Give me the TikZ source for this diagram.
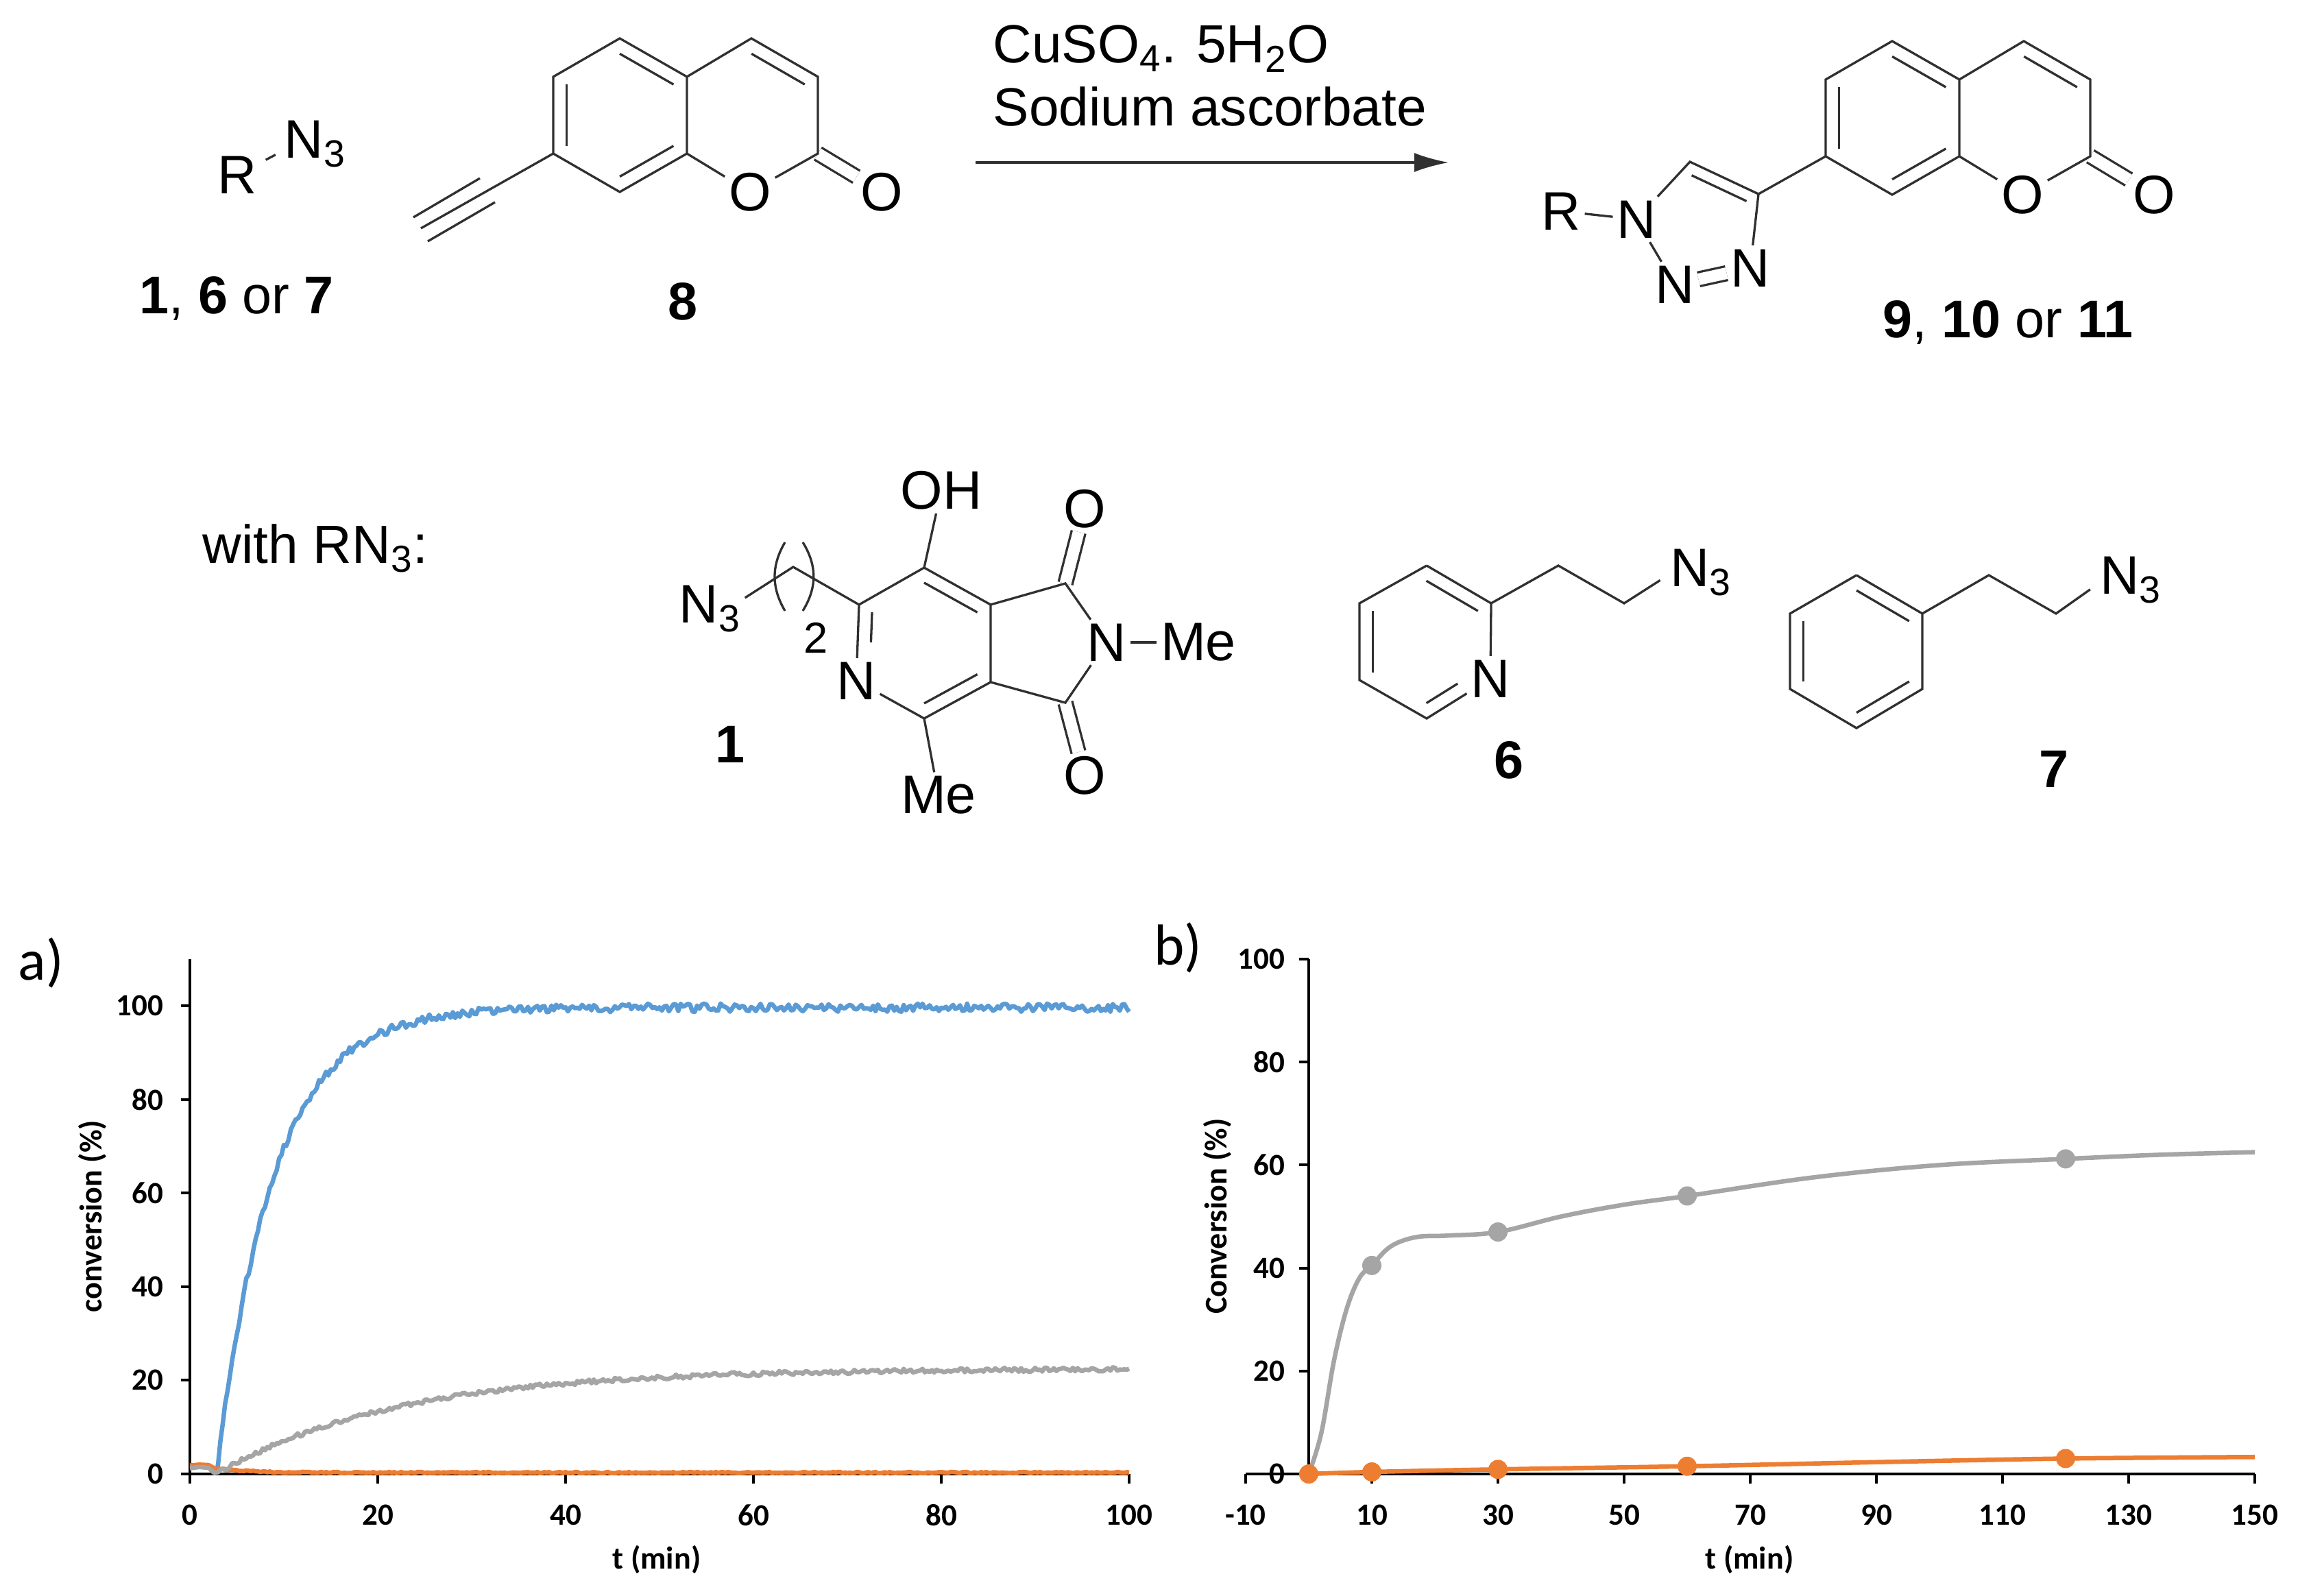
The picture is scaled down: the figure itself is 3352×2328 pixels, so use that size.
\documentclass[tikz,border=0pt]{standalone}
\usepackage{fontspec}
\setmainfont{Liberation Sans}
\newfontfamily\chartfont{Carlito}
\usetikzlibrary{arrows.meta,calc,positioning}

\definecolor{bondgray}{HTML}{303030}
\definecolor{seriesblue}{HTML}{5B9BD5}
\definecolor{seriesgray}{HTML}{A5A5A5}
\definecolor{seriesorange}{HTML}{ED7D31}

% inner line of a ring double bond: ends, ring centre
\newcommand{\inbond}[4][]{\draw[bond,#1] ($(#2)!.2!(#4)$) -- ($(#3)!.2!(#4)$);}

\tikzset{
  bond/.style={draw=bondgray,line width=0.033cm},
  dbond/.style={bond,double=white,double distance=0.17cm},
  atom/.style={font=\fontsize{22.5}{27}\selectfont,text=black,inner sep=1.5pt},
  cpdlabel/.style={font=\fontsize{22}{26}\selectfont,text=black,inner sep=0pt},
  plaintext/.style={font=\fontsize{22.3}{27}\selectfont,text=black,inner sep=0pt},
  axisline/.style={draw=black,line width=0.035cm},
  ticklab/.style={font=\chartfont\bfseries\fontsize{12.8}{15}\selectfont,text=black,inner sep=0pt},
  axislab/.style={font=\chartfont\bfseries\fontsize{13.1}{16}\selectfont,text=black,inner sep=0pt},
  panellab/.style={font=\chartfont\fontsize{24}{28}\selectfont,text=black,inner sep=0pt},
  curveblue/.style={draw=seriesblue,line width=0.065cm,line join=round},
  curvegray/.style={draw=seriesgray,line width=0.065cm,line join=round},
  curveorange/.style={draw=seriesorange,line width=0.065cm,line join=round},
  graydot/.style={circle,fill=seriesgray,inner sep=0pt,minimum size=0.28cm},
  orangedot/.style={circle,fill=seriesorange,inner sep=0pt,minimum size=0.28cm},
  pics/coumarin/.style={code={
    \coordinate (c1) at (0,0);
    \coordinate (c2) at (193,0);
    \coordinate (t) at (0,-112);
    \coordinate (ur) at (98,-56);
    \coordinate (lr) at (98,56);
    \coordinate (b) at (0,112);
    \coordinate (ll) at (-97,56);
    \coordinate (ul) at (-97,-56);
    \coordinate (t2) at (192,-112);
    \coordinate (ru) at (289,-56);
    \coordinate (rl) at (289,56);
    \node[atom] (O) at (190,112) {O};
    \node[atom] (Ox) at (382,112) {O};
    \draw[dbond] (rl) -- (Ox);
    \draw[bond] (t) -- (ur) -- (lr) -- (b) -- (ll) -- (ul) -- cycle;
    \draw[bond] (ur) -- (t2) -- (ru) -- (rl) -- (O) -- (lr);
    \inbond{t}{ur}{c1}
    \inbond{ll}{ul}{c1}
    \inbond{lr}{b}{c1}
    \inbond{t2}{ru}{c2}
  }}
}

\begin{document}
\begin{tikzpicture}[x=0.01cm,y=-0.01cm]
\useasboundingbox (0,0) rectangle (3352,2328);

% reaction, left side
\node[atom] (rA) at (346,255) {R};
\node[atom,anchor=west] (azA) at (409,210) {N\textsubscript{3}};
\draw[bond,shorten <=0.08cm,shorten >=0.08cm] (rA) -- ([yshift=-0.12cm]azA.west);
\node[cpdlabel] (lab167) at (345,435) {\textbf{1}, \textbf{6} or \textbf{7}};
\pic (cA) at (904,168) {coumarin};
\coordinate (yneA) at (614,333);
\coordinate (yneAa) at (700,260);
\coordinate (yneAb) at (603,317);
\coordinate (yneAc) at (722,295);
\coordinate (yneAd) at (624,352);
\draw[bond] (cAll) -- (yneA);
\draw[bond] (yneAa) -- (yneAb);
\draw[bond] (yneAc) -- (yneAd);
\node[cpdlabel] (lab8) at (996,440) {\textbf{8}};

% arrow and conditions
\coordinate (arrS) at (1423,237);
\coordinate (arrE) at (2113,237);
\draw[bond,-{Latex[length=0.5cm,width=0.28cm]}] (arrS) -- (arrE);
\node[plaintext,anchor=base west] (cond1) at (1448,92) {CuSO\textsubscript{4}. 5H\textsubscript{2}O};
\node[plaintext,anchor=base west] (cond2) at (1448,184) {Sodium ascorbate};

% reaction, product
\pic (cB) at (2760,172) {coumarin};
\coordinate (c4) at (2565,283);
\coordinate (c5) at (2465,236);
\coordinate (ctz) at (2478,335);
\node[atom] (n1) at (2387,320) {N};
\node[atom] (n2) at (2443,415) {N};
\node[atom] (n3) at (2553,391) {N};
\node[atom] (rB) at (2277,308) {R};
\draw[bond] (cBll) -- (c4);
\draw[bond] (c4) -- (c5) -- (n1);
\draw[bond] (c4) -- (n3);
\draw[bond] (n1) -- (n2);
\draw[dbond] (n2) -- (n3);
\draw[bond] (rB) -- (n1);
\inbond{c4}{c5}{ctz}
\node[cpdlabel] (lab911) at (2929,470) {\textbf{9}, \textbf{10} or \textbf{11}};

% with RN3
\node[plaintext,anchor=west] (with) at (295,800) {with RN\textsubscript{3}:};

% compound 1
\coordinate (p1) at (1348,828);
\coordinate (p2) at (1445,882);
\coordinate (p3) at (1445,995);
\coordinate (p4) at (1348,1048);
\coordinate (p6) at (1253,882);
\coordinate (pc) at (1348,938);
\coordinate (f1) at (1554,851);
\coordinate (f2) at (1554,1025);
\coordinate (ch2) at (1157,827);
\node[atom] (p5) at (1249,993) {N};
\node[atom] (nf) at (1614,937) {N};
\node[atom] (meN) at (1748,937) {Me};
\node[atom] (oh) at (1373,715) {OH};
\node[atom] (me) at (1369,1160) {Me};
\node[atom] (of1) at (1582,742) {O};
\node[atom] (of2) at (1582,1131) {O};
\node[atom,anchor=west] (azB) at (985,888) {N\textsubscript{3}};
\node[atom,inner sep=0pt,font=\fontsize{18}{22}\selectfont] (two) at (1190,930) {2};
\draw[dbond] (f1) -- (of1);
\draw[dbond] (f2) -- (of2);
\draw[bond] (p6) -- (p1) -- (p2) -- (p3) -- (p4) -- (p5) -- (p6);
\draw[bond] (p2) -- (f1) -- (nf) -- (f2) -- (p3);
\draw[bond] (nf) -- (meN);
\draw[bond] (p1) -- (oh);
\draw[bond] (p4) -- (me);
\draw[bond] (p6) -- (ch2) -- ([yshift=0.16cm]azB.east);
\draw[bond] (1145,791) .. controls (1125,825) and (1125,857) .. (1145,891);
\draw[bond] (1171,791) .. controls (1192,825) and (1192,857) .. (1171,891);
\inbond{p1}{p2}{pc}
\inbond{p3}{p4}{pc}
\inbond[shorten >=0.45cm]{p6}{p5}{pc}
\node[cpdlabel] (lab1) at (1065,1086) {\textbf{1}};

% compound 6
\coordinate (q1) at (2081,825);
\coordinate (q2) at (2175,880);
\coordinate (q4) at (2081,1048);
\coordinate (q5) at (1983,992);
\coordinate (q6) at (1983,880);
\coordinate (qc) at (2079,936);
\coordinate (q7) at (2273,825);
\coordinate (q8) at (2369,880);
\node[atom] (q3) at (2174,990) {N};
\node[atom,anchor=west] (azC) at (2430,835) {N\textsubscript{3}};
\draw[bond] (q1) -- (q2) -- (q3) -- (q4) -- (q5) -- (q6) -- (q1);
\draw[bond,shorten >=0.1cm] (q2) -- (q7) -- (q8) -- ([yshift=-0.06cm]azC.west);
\inbond{q1}{q2}{qc}
\inbond{q5}{q6}{qc}
\inbond[shorten >=0.34cm]{q4}{q3}{qc}
\node[cpdlabel] (lab6) at (2201,1109) {\textbf{6}};

% compound 7
\coordinate (s1) at (2708,839);
\coordinate (s2) at (2804,895);
\coordinate (s3) at (2804,1005);
\coordinate (s4) at (2708,1062);
\coordinate (s5) at (2611,1005);
\coordinate (s6) at (2611,895);
\coordinate (sc) at (2708,950);
\coordinate (s7) at (2901,839);
\coordinate (s8) at (2999,895);
\node[atom,anchor=west] (azD) at (3057,846) {N\textsubscript{3}};
\draw[bond] (s1) -- (s2) -- (s3) -- (s4) -- (s5) -- (s6) -- (s1);
\draw[bond,shorten >=0.1cm] (s2) -- (s7) -- (s8) -- ([yshift=-0.08cm]azD.west);
\inbond{s1}{s2}{sc}
\inbond{s5}{s6}{sc}
\inbond{s3}{s4}{sc}
\node[cpdlabel] (lab7) at (2996,1122) {\textbf{7}};

% chart a
\node[panellab] (pa) at (60,1404) {a)};
\coordinate (aO) at (277,2150);
\coordinate (aT) at (277,1399);
\coordinate (aR) at (1647,2150);
\draw[axisline] (aT) -- (aO) -- (aR);
\draw[axisline] (277,2150) -- (277,2164) node[ticklab,below=0.29cm] (xa0) {0};
\draw[axisline] (551,2150) -- (551,2164) node[ticklab,below=0.29cm] (xa20) {20};
\draw[axisline] (825,2150) -- (825,2164) node[ticklab,below=0.29cm] (xa40) {40};
\draw[axisline] (1099,2150) -- (1099,2164) node[ticklab,below=0.29cm] (xa60) {60};
\draw[axisline] (1373,2150) -- (1373,2164) node[ticklab,below=0.29cm] (xa80) {80};
\draw[axisline] (1647,2150) -- (1647,2164) node[ticklab,below=0.29cm] (xa100) {100};
\draw[axisline] (277,2150) -- (264,2150) node[ticklab,left=0.24cm] (ya0) {0};
\draw[axisline] (277,2013) -- (264,2013) node[ticklab,left=0.24cm] (ya20) {20};
\draw[axisline] (277,1877) -- (264,1877) node[ticklab,left=0.24cm] (ya40) {40};
\draw[axisline] (277,1740) -- (264,1740) node[ticklab,left=0.24cm] (ya60) {60};
\draw[axisline] (277,1604) -- (264,1604) node[ticklab,left=0.24cm] (ya80) {80};
\draw[axisline] (277,1467) -- (264,1467) node[ticklab,left=0.24cm] (ya100) {100};
\node[axislab] (xlabA) at (958,2275) {t (min)};
\node[axislab,rotate=90] (ylabA) at (135,1774) {conversion (\%)};
\pgfmathsetseed{4711}
\begin{scope}[shift={(277,2150)},xscale=13.7,yscale=-6.83]
\draw[curveblue] (2.8,0) -- plot[domain=3:100,samples=389] (\x,{100*(1-exp(-(\x-2.8)/6))-0.4+0.9*rand});
\draw[curveorange] (0,1.8) -- (1,2) -- (2,1.9) -- (2.8,1) -- plot[domain=3:100,samples=389] (\x,{0.3+0.9*exp(-(\x-3)/3)+0.15*rand});
\draw[curvegray] (0,1.2) -- (1,1.5) -- (2,1.3) -- (2.6,0.2) -- plot[domain=3:100,samples=389] (\x,{22.5*(1-exp(-(\x-2.8)/19))+0.45*rand});
\end{scope}

% chart b
\node[panellab] (pb) at (1718,1382) {b)};
\coordinate (bO) at (1909,2150);
\coordinate (bT) at (1909,1399);
\coordinate (bL) at (1817,2150);
\coordinate (bR) at (3289,2150);
\draw[axisline] (bT) -- (bO);
\draw[axisline] (bL) -- (bR);
\draw[axisline] (1817,2150) -- (1817,2164) node[ticklab,below=0.29cm] (xbm10) {-10};
\draw[axisline] (2001,2150) -- (2001,2164) node[ticklab,below=0.29cm] (xb10) {10};
\draw[axisline] (2185,2150) -- (2185,2164) node[ticklab,below=0.29cm] (xb30) {30};
\draw[axisline] (2369,2150) -- (2369,2164) node[ticklab,below=0.29cm] (xb50) {50};
\draw[axisline] (2553,2150) -- (2553,2164) node[ticklab,below=0.29cm] (xb70) {70};
\draw[axisline] (2737,2150) -- (2737,2164) node[ticklab,below=0.29cm] (xb90) {90};
\draw[axisline] (2921,2150) -- (2921,2164) node[ticklab,below=0.29cm] (xb110) {110};
\draw[axisline] (3105,2150) -- (3105,2164) node[ticklab,below=0.29cm] (xb130) {130};
\draw[axisline] (3289,2150) -- (3289,2164) node[ticklab,below=0.29cm] (xb150) {150};
\draw[axisline] (1909,2150) -- (1895,2150) node[ticklab,left=0.19cm] (yb0) {0};
\draw[axisline] (1909,2000) -- (1895,2000) node[ticklab,left=0.19cm] (yb20) {20};
\draw[axisline] (1909,1850) -- (1895,1850) node[ticklab,left=0.19cm] (yb40) {40};
\draw[axisline] (1909,1699) -- (1895,1699) node[ticklab,left=0.19cm] (yb60) {60};
\draw[axisline] (1909,1549) -- (1895,1549) node[ticklab,left=0.19cm] (yb80) {80};
\draw[axisline] (1909,1399) -- (1895,1399) node[ticklab,left=0.19cm] (yb100) {100};
\node[axislab] (xlabB) at (2552,2275) {t (min)};
\node[axislab,rotate=90] (ylabB) at (1776,1774) {Conversion (\%)};
\begin{scope}[shift={(1909,2150)},xscale=9.2,yscale=-7.51]
\draw[curvegray] plot[smooth,tension=0.6] coordinates {(0,0) (2,8) (4,22) (6,32) (8,38) (10,40.5) (13,44.2) (17,46) (22,46.3) (30,47) (40,50) (50,52.3) (60,54) (80,57.6) (100,60) (120,61.2) (135,62) (150,62.5)};
\draw[curveorange] plot[smooth] coordinates {(0,0) (10,0.4) (30,0.9) (60,1.5) (90,2.3) (120,3) (150,3.3)};
\node[graydot] (g10) at (10,40.5) {};
\node[graydot] (g30) at (30,47) {};
\node[graydot] (g60) at (60,54) {};
\node[graydot] (g120) at (120,61.2) {};
\node[orangedot] (o0) at (0,0) {};
\node[orangedot] (o10) at (10,0.4) {};
\node[orangedot] (o30) at (30,0.9) {};
\node[orangedot] (o60) at (60,1.5) {};
\node[orangedot] (o120) at (120,3) {};
\end{scope}
\end{tikzpicture}
\end{document}
